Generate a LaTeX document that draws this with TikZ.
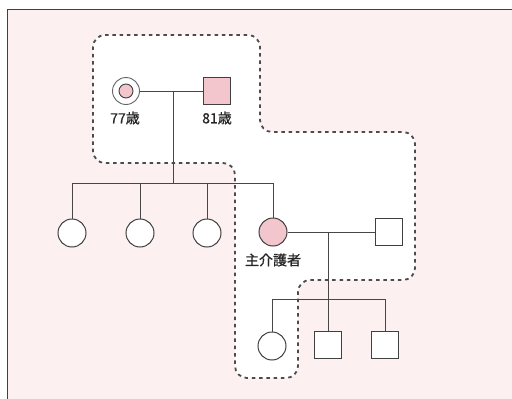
\documentclass[tikz,border=0pt]{standalone}
\usepackage{fontspec}
\newfontfamily\jp[FakeBold=0.8]{Noto Sans CJK JP}
\begin{document}
\begin{tikzpicture}[x=1pt,y=-1pt,
  line/.style={draw=black!72, line width=1pt},
  female/.style={circle, draw=black!75, line width=1pt, fill=white, minimum size=28pt, inner sep=0pt},
  male/.style={rectangle, draw=black!75, line width=1pt, fill=white, minimum size=27pt, inner sep=0pt},
  pinkfill/.style={fill=pinkF},
  lbl/.style={font=\jp\fontsize{14}{15}\selectfont, text=black!85, inner sep=0pt},
  region/.style={draw=black!70, line width=1.8pt, dash pattern=on 3.5pt off 3.8pt, fill=white, rounded corners=12pt}]
\definecolor{pinkF}{HTML}{F3C6CE}
\definecolor{bgpink}{HTML}{FDF0F1}
\useasboundingbox (0,0) rectangle (512,399);
\fill[white] (0,0) rectangle (512,399);
\fill[bgpink] (7,9) rectangle (512,399);
\draw[black!75, line width=1pt] (512,9) -- (7,9) -- (7,399);
% dashed region
\path[region] (93,35) -- (260,35) -- (260,132) -- (415,132) -- (415,280) -- (298,280) -- (298,378) -- (235,378) -- (235,163) -- (93,163) -- cycle;
% grandparents
\node[circle, draw=black!60, line width=0.9pt, fill=white, minimum size=27pt, inner sep=0pt] (gm) at (126,91) {};
\node[circle, draw=black!75, line width=0.9pt, fill=pinkF, minimum size=14pt, inner sep=0pt] (gmi) at (126,91) {};
\node[male, pinkfill] (gf) at (217,91) {};
\node[lbl] (lgm) at (125,118) {77歳};
\node[lbl] (lgf) at (217,118) {81歳};
\coordinate (m1) at (173,91);
\coordinate (s1) at (173,183);
\draw[line] (gm) -- (gf);
\draw[line] (m1) -- (s1);
% children
\node[female] (c1) at (72,233) {};
\node[female] (c2) at (140,233) {};
\node[female] (c3) at (207,233) {};
\node[female, pinkfill] (cg) at (273,232) {};
\node[lbl] (lcg) at (273,260) {主介護者};
\node[male] (sp) at (389,232) {};
\coordinate (t1) at (72,183);
\coordinate (t2) at (140,183);
\coordinate (t3) at (207,183);
\coordinate (t4) at (273,183);
\draw[line] (t1) -- (t4);
\draw[line] (t1) -- (c1);
\draw[line] (t2) -- (c2);
\draw[line] (t3) -- (c3);
\draw[line] (t4) -- (cg);
\draw[line] (cg) -- (sp);
\coordinate (m2) at (328,232);
\coordinate (s2) at (328,299);
\draw[line] (m2) -- (s2);
% grandchildren
\node[female] (g1) at (272,346) {};
\node[male] (g2) at (328,345) {};
\node[male] (g3) at (385,345) {};
\coordinate (u1) at (272,299);
\coordinate (u2) at (328,299);
\coordinate (u3) at (385,299);
\draw[line] (u1) -- (u3);
\draw[line] (u1) -- (g1);
\draw[line] (u2) -- (g2);
\draw[line] (u3) -- (g3);
\end{tikzpicture}
\end{document}
